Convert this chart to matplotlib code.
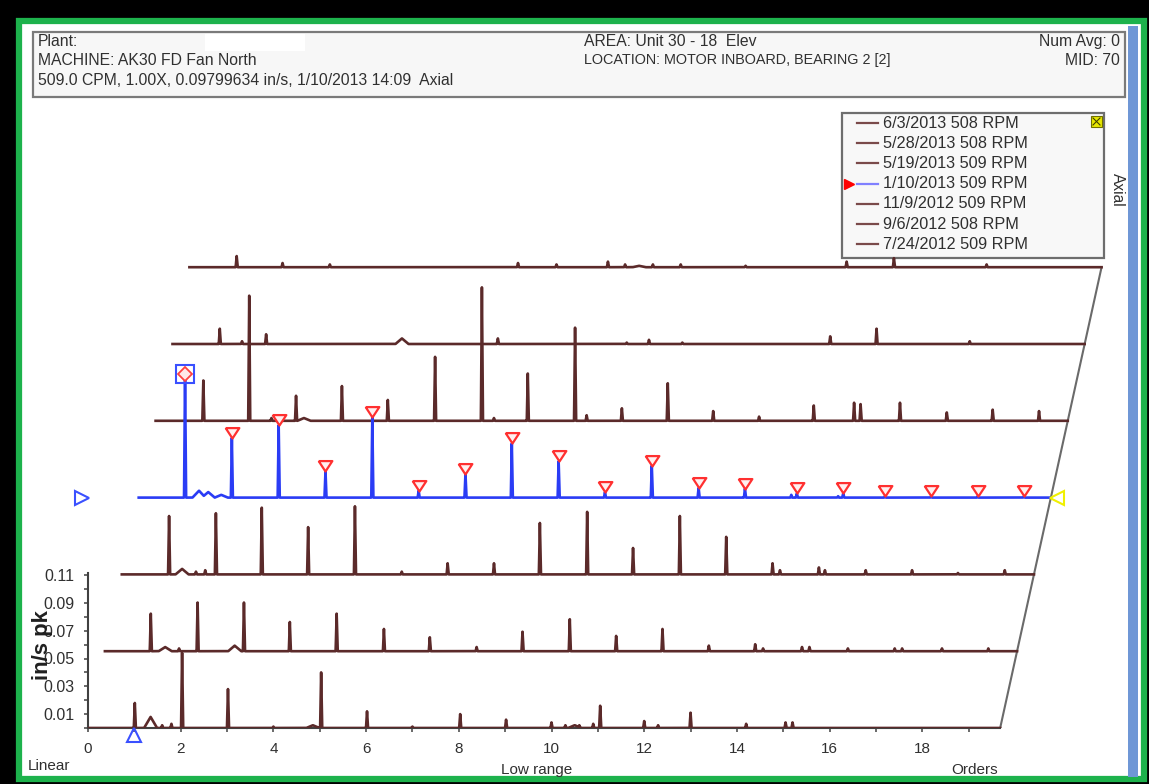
import numpy as np
import matplotlib
matplotlib.use("Agg")
import matplotlib.pyplot as plt
from matplotlib.patches import Rectangle

plt.rcParams['font.family'] = ['Liberation Sans', 'DejaVu Sans']

# ---------------- data ----------------
legend_labels = ["6/3/2013 508 RPM", "5/28/2013 508 RPM", "5/19/2013 509 RPM",
                 "1/10/2013 509 RPM", "11/9/2012 509 RPM", "9/6/2012 508 RPM",
                 "7/24/2012 509 RPM"]
selected_label = "1/10/2013 509 RPM"

x_ticks = list(range(0, 20))
x_ticklabels = [str(t) if t % 2 == 0 else "" for t in x_ticks]
y_ticks = [0.00, 0.01, 0.02, 0.03, 0.04, 0.05, 0.06, 0.07, 0.08, 0.09, 0.10, 0.11]
y_ticklabels = ["", "0.01", "", "0.03", "", "0.05", "", "0.07", "", "0.09", "", "0.11"]
order_end = 19.68

# (order, in/s pk) narrow peaks, and broad humps, front trace first
peaks_0724 = [(1.01, 0.018), (1.6, 0.002), (1.8, 0.003), (2.03, 0.054), (3.02, 0.028),
              (4.0, 0.001), (5.03, 0.040), (6.02, 0.012), (7.0, 0.001), (8.03, 0.010),
              (9.02, 0.006), (10.0, 0.004), (10.3, 0.002), (10.6, 0.002), (10.9, 0.003),
              (11.05, 0.016), (12.0, 0.005), (12.3, 0.002), (13.0, 0.011), (14.2, 0.003),
              (15.05, 0.004), (15.2, 0.004)]
humps_0724 = [(1.35, 0.008), (4.85, 0.002), (10.5, 0.002)]

peaks_0906 = [(0.99, 0.027), (1.6, 0.002), (2.0, 0.035), (3.0, 0.035), (3.99, 0.021),
              (5.0, 0.027), (6.02, 0.016), (7.01, 0.010), (8.02, 0.003), (9.01, 0.014),
              (10.03, 0.023), (11.03, 0.011), (12.03, 0.016), (13.03, 0.004), (14.03, 0.005),
              (14.2, 0.002), (15.04, 0.003), (15.2, 0.003), (16.03, 0.002), (17.04, 0.002),
              (17.2, 0.002), (18.06, 0.002), (19.06, 0.002)]
humps_0906 = [(1.3, 0.003), (2.8, 0.004)]

peaks_1109 = [(1.02, 0.042), (1.6, 0.002), (1.8, 0.003), (2.03, 0.044), (3.02, 0.048),
              (4.02, 0.034), (5.03, 0.049), (6.04, 0.002), (7.03, 0.008), (8.03, 0.008),
              (9.02, 0.037), (10.04, 0.045), (11.03, 0.019), (12.04, 0.042), (13.04, 0.027),
              (14.04, 0.008), (14.2, 0.003), (15.04, 0.005), (15.17, 0.003), (16.05, 0.003),
              (17.05, 0.003), (18.04, 0.001), (19.05, 0.003)]
humps_1109 = [(1.3, 0.004)]

peaks_0110 = [(1.0, 0.089), (2.01, 0.043), (3.02, 0.052), (4.03, 0.019), (5.04, 0.058),
              (6.04, 0.005), (7.05, 0.017), (8.05, 0.039), (9.06, 0.026), (10.06, 0.004),
              (11.07, 0.023), (12.08, 0.007), (13.08, 0.0065), (14.08, 0.002), (14.2, 0.003),
              (15.09, 0.001), (15.2, 0.003), (16.1, 0.001), (17.1, 0.001), (18.1, 0.001),
              (19.1, 0.001)]
humps_0110 = [(1.3, 0.005), (1.5, 0.004), (1.78, 0.002)]

peaks_0519 = [(1.03, 0.029), (2.02, 0.090), (2.5, 0.002), (3.03, 0.018), (4.02, 0.025),
              (5.01, 0.015), (6.03, 0.046), (7.04, 0.096), (7.3, 0.002), (8.03, 0.034),
              (9.05, 0.067), (9.3, 0.004), (10.06, 0.009), (11.05, 0.027), (12.03, 0.007),
              (13.02, 0.003), (14.2, 0.011), (15.07, 0.013), (15.21, 0.012), (16.06, 0.013),
              (17.07, 0.006), (18.06, 0.008), (19.06, 0.007)]
humps_0519 = [(3.2, 0.002)]

peaks_0528 = [(1.02, 0.011), (1.5, 0.002), (2.02, 0.007), (7.02, 0.004), (9.8, 0.001),
              (10.28, 0.003), (11.0, 0.001), (14.19, 0.0055), (15.19, 0.011), (17.2, 0.002)]
humps_0528 = [(4.95, 0.004)]

peaks_0603 = [(1.02, 0.008), (2.01, 0.003), (3.03, 0.002), (7.09, 0.003), (7.92, 0.002),
              (9.03, 0.004), (9.4, 0.002), (10.0, 0.002), (10.6, 0.002), (12.0, 0.001),
              (14.18, 0.004), (15.2, 0.0065), (17.2, 0.002)]
humps_0603 = [(9.7, 0.001)]

traces = [(peaks_0724, humps_0724), (peaks_0906, humps_0906), (peaks_1109, humps_1109),
          (peaks_0110, humps_0110), (peaks_0519, humps_0519), (peaks_0528, humps_0528),
          (peaks_0603, humps_0603)]
selected_index = 3
marker_orders = [2, 3, 4, 5, 6, 7, 8, 9, 10, 11, 12, 13, 14, 15, 16, 17, 18, 19]

# ---------------- layout / style ----------------
W, H = 1149, 784
PX_ORDER = 46.35          # pixels per order
PX_UNIT = 1390.0          # pixels per in/s
X0, Y0 = 88, 728          # pixel position of origin
DX = 16.9 / PX_ORDER      # per-trace offset (orders)
DY = 76.8 / PX_UNIT       # per-trace offset (in/s)
BROWN = '#5b2a2a'
BLUE = '#2a3cf5'
TXT = '#303030'

fig = plt.figure(figsize=(W / 100, H / 100), dpi=100, facecolor='black')

# background / decoration axes in pixel coordinates
bg = fig.add_axes([0, 0, 1, 1])
bg.set_xlim(0, W)
bg.set_ylim(H, 0)
bg.axis('off')
bg.add_patch(Rectangle((19, 21), 1125, 758, facecolor='white', edgecolor='#1db24c', lw=4.5))
bg.add_patch(Rectangle((1128, 26), 10, 751, facecolor='#6f97d6', edgecolor='none'))
# header
bg.add_patch(Rectangle((33, 32), 1092, 65, facecolor='#f7f7f7', edgecolor='#7a7a7a', lw=1.6))
bg.add_patch(Rectangle((205, 34), 100, 17, facecolor='white', edgecolor='none'))
hfs = 11.3
bg.text(38, 41, "Plant:", fontsize=hfs, color=TXT, va='center')
bg.text(38, 60, "MACHINE: AK30 FD Fan North", fontsize=hfs, color=TXT, va='center')
bg.text(38, 80, "509.0 CPM, 1.00X, 0.09799634 in/s, 1/10/2013 14:09  Axial",
        fontsize=hfs, color=TXT, va='center')
bg.text(584, 41, "AREA: Unit 30 - 18  Elev", fontsize=hfs, color=TXT, va='center')
bg.text(584, 60, "LOCATION: MOTOR INBOARD, BEARING 2 [2]", fontsize=10.4, color=TXT,
        va='center')
bg.text(1120, 41, "Num Avg: 0", fontsize=hfs, color=TXT, va='center', ha='right')
bg.text(1120, 60, "MID: 70", fontsize=hfs, color=TXT, va='center', ha='right')

# legend
bg.add_patch(Rectangle((842, 113), 262, 145, facecolor='#f8f8f8', edgecolor='#6e6e6e', lw=1.6))
bg.add_patch(Rectangle((1091, 116), 11, 11, facecolor='#e8e800', edgecolor='#707000', lw=0.8))
bg.plot([1093, 1100], [118, 125], color='#404000', lw=0.8)
bg.plot([1093, 1100], [125, 118], color='#404000', lw=0.8)
for i, lab in enumerate(legend_labels):
    yy = 123 + 20.2 * i
    sel = lab == selected_label
    bg.plot([857, 878], [yy, yy], color='#8080ff' if sel else '#7a4a4a', lw=1.6)
    bg.text(883, yy, lab, fontsize=11.7, color=TXT, va='center')
    if sel:
        bg.plot([849], [yy], marker='>', ms=7, color='red', mec='red')
bg.text(1117, 190, "Axial", fontsize=11.2, color=TXT, rotation=-90, va='center', ha='center')

# bottom texts
bg.text(28, 766, "Linear", fontsize=11, color=TXT, va='center')
bg.text(537, 770, "Low range", fontsize=11, color=TXT, va='center', ha='center')
bg.text(975, 770, "Orders", fontsize=11, color=TXT, va='center', ha='center')

# ---------------- main waterfall axes ----------------
right_px, top_px = 1110, 100
ax = fig.add_axes([X0 / W, (H - Y0) / H, (right_px - X0) / W, (Y0 - top_px) / H])
ax.set_facecolor('none')
ax.set_xlim(0, (right_px - X0) / PX_ORDER)
ax.set_ylim(0, (Y0 - top_px) / PX_UNIT)


def build(peaks, humps):
    pos = [p[0] for p in peaks]
    x = np.union1d(np.linspace(0, order_end, 8000), pos)
    y = np.zeros_like(x)
    for o, a in peaks:
        y = np.maximum(y, a * np.clip(1 - np.abs(x - o) / 0.022, 0, None))
    for o, a in humps:
        y = np.maximum(y, a * np.clip(1 - np.abs(x - o) / 0.14, 0, None))
    return x, y


for k in range(len(traces) - 1, -1, -1):
    pk, hp = traces[k]
    x, y = build(pk, hp)
    sel = k == selected_index
    ax.plot(x + k * DX, y + k * DY, color=BLUE if sel else BROWN,
            lw=1.9, zorder=10 + (len(traces) - k))

# slanted right edge
nk = len(traces) - 1
ax.plot([order_end, order_end + nk * DX], [0, nk * DY], color='#6a6a6a', lw=1.5, zorder=5)

# harmonic markers on selected trace
sel_peaks = dict((round(o), a) for o, a in peaks_0110)
sel_pos = dict((round(o), o) for o, a in peaks_0110)
tri = [(-1.15, 1.75), (1.15, 1.75), (0, 0), (-1.15, 1.75)]
mx = [sel_pos[m] + selected_index * DX for m in marker_orders]
my = [sel_peaks[m] + selected_index * DY for m in marker_orders]
ax.plot(mx, my, ls='none', marker=tri, ms=15, mfc='#fff0f0', mec='#ff3030', mew=1.6, zorder=40)
# 1X cursor box
bx = sel_pos[1] + selected_index * DX
by = sel_peaks[1] + selected_index * DY
ax.plot([bx], [by], marker='s', ms=13, mfc='none', mec='#3a50ff', mew=1.5, zorder=41)
ax.plot([bx], [by], marker='D', ms=7, mfc='#ffe8e8', mec='#ff4040', mew=1.3, zorder=42)
# trace indicators
ax.plot([selected_index * DX - 56.7 / PX_ORDER], [selected_index * DY], marker='>', ms=10,
        mfc='none', mec='#3a50ff', mew=1.5, clip_on=False, zorder=42)
ax.plot([order_end + selected_index * DX + 6 / PX_ORDER], [selected_index * DY], marker='<',
        ms=10, mfc='none', mec='#f0f000', mew=1.5, clip_on=False, zorder=42)
ax.plot([sel_pos[1]], [-7 / PX_UNIT], marker='^', ms=10, mfc='none', mec='#3a50ff', mew=1.5,
        clip_on=False, zorder=42)

# axes styling
for s in ['top', 'right']:
    ax.spines[s].set_visible(False)
ax.spines['bottom'].set_bounds(0, order_end)
ax.spines['left'].set_bounds(0, 0.1115)
for s in ['bottom', 'left']:
    ax.spines[s].set_color('#404040')
    ax.spines[s].set_linewidth(1.5)
ax.set_xticks(x_ticks)
ax.set_xticklabels(x_ticklabels)
ax.set_yticks(y_ticks)
ax.set_yticklabels(y_ticklabels)
ax.tick_params(axis='both', direction='out', length=3, width=1.2, color='#505050',
               labelcolor=TXT, labelsize=11)
ax.tick_params(axis='x', pad=7)
ax.tick_params(axis='y', pad=7, labelsize=11.5)
ax.set_ylabel("in/s pk", fontsize=16, color='#202020', fontweight='bold')
ax.yaxis.set_label_coords((53 - X0) / (right_px - X0), (Y0 - 645) / (Y0 - top_px))

fig.savefig("out.png", dpi=100, facecolor='black')
